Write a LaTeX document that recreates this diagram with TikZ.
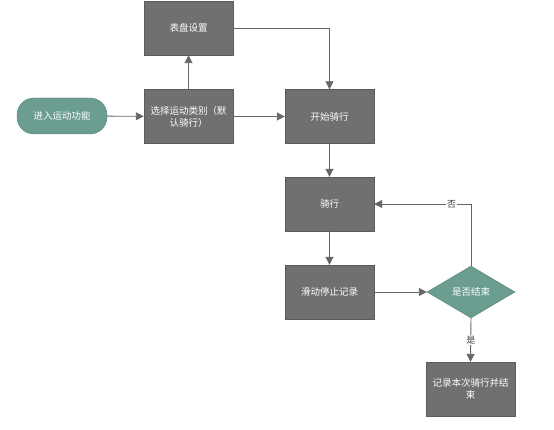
\documentclass[tikz,border=0pt]{standalone}
\usepackage{fontspec}
\setmainfont{Noto Sans CJK SC}
\usetikzlibrary{arrows.meta,shapes.geometric}
\definecolor{boxgray}{HTML}{707070}
\definecolor{boxedge}{HTML}{5C5C5C}
\definecolor{sage}{HTML}{6B9E91}
\definecolor{sageedge}{HTML}{4F7F73}
\definecolor{linegray}{HTML}{666666}

\begin{document}
\begin{tikzpicture}[x=1pt,y=-1pt,
  stepbox/.style={draw=boxedge,fill=boxgray,rectangle,minimum width=89pt,minimum height=54pt,inner xsep=1pt,text=white,font=\fontsize{9.5}{12}\selectfont,align=center,text width=86pt},
  termbox/.style={draw=sageedge,fill=sage,rectangle,rounded corners=17pt,minimum width=90pt,minimum height=36pt,text=white,font=\fontsize{9.5}{12}\selectfont},
  choice/.style={draw=sageedge,fill=sage,diamond,aspect=1.7,minimum width=88pt,minimum height=52pt,inner sep=0pt,text=white,font=\fontsize{9.5}{12}\selectfont},
  flow/.style={draw=linegray,line width=0.9pt,-{Triangle[length=8pt,width=8pt]}},
  tag/.style={fill=white,inner sep=1pt,text=black!75,font=\fontsize{9}{11}\selectfont}]
\useasboundingbox (0,0) rectangle (554,430);
% Steps
\node[termbox] (start) at (62,116) {进入运动功能};
\node[stepbox] (dial) at (188.5,28) {表盘设置};
\node[stepbox] (select) at (188.5,116.5) {选择运动类别（默\\认骑行）};
\node[stepbox] (begin) at (329.5,116.5) {开始骑行};
\node[stepbox] (ride) at (329.5,204) {骑行};
\node[stepbox] (stop) at (329.5,292) {滑动停止记录};
\node[choice] (decide) at (471,292) {是否结束};
\node[stepbox] (finish) at (470.5,389) {记录本次骑行并结\\束};

% Arrows
\draw[flow] (start) -- (select);
\draw[flow] (select) -- (dial);
\draw[flow] (dial.east) -| (begin.north);
\draw[flow] (select) -- (begin);
\draw[flow] (begin) -- (ride);
\draw[flow] (ride) -- (stop);
\draw[flow] (stop) -- (decide);
\draw[flow] (decide.north) |- node[tag,pos=0.6] {否} (ride.east);
\draw[flow] (decide.south) -- node[tag] {是} (finish.north);
\end{tikzpicture}
\end{document}
